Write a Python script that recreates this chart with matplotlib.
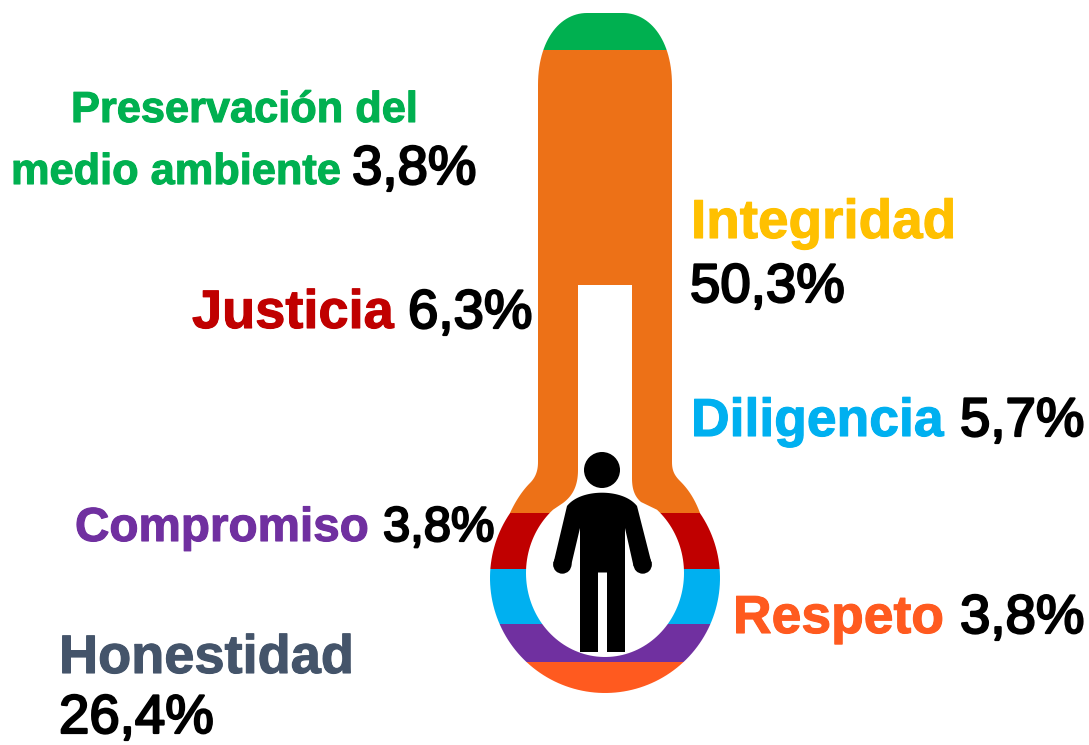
import numpy as np
import matplotlib
matplotlib.use('Agg')
import matplotlib.pyplot as plt
from matplotlib.patches import Circle, PathPatch, Polygon, Rectangle
from matplotlib.path import Path
import matplotlib.patheffects as pe

plt.rcParams['font.family'] = ['Liberation Sans', 'DejaVu Sans']

# data
labels = ['Preservación del\nmedio ambiente', 'Integridad', 'Justicia', 'Diligencia',
          'Compromiso', 'Respeto', 'Honestidad']
values = [3.8, 50.3, 6.3, 5.7, 3.8, 3.8, 26.4]
label_colors = ['#00B050', '#FFC000', '#C00000', '#00B0F0', '#7030A0', '#FF5A1F', '#44546A']

# thermometer bands, top to bottom (not proportional in the original either)
band_colors = ['#00B050', '#ED7117', '#C00000', '#00B0F0', '#7030A0', '#FF5A1F']
band_edges = [13, 50, 513, 569, 624, 662, 693]


def fmt(v):
    return f"{v:.1f}%".replace('.', ',')


def bez(p0, p1, p2, p3, n=30):
    t = np.linspace(0, 1, n)[:, None]
    p0, p1, p2, p3 = map(np.array, (p0, p1, p2, p3))
    return (1-t)**3*p0 + 3*(1-t)**2*t*p1 + 3*(1-t)*t**2*p2 + t**3*p3


def arc(cx, cy, rx, ry, a0, a1, n=120):
    a = np.radians(np.linspace(a0, a1, n))
    return np.column_stack([cx + rx*np.cos(a), cy + ry*np.sin(a)])


fig = plt.figure(figsize=(10.89, 7.45), dpi=100)
ax = fig.add_axes([0, 0, 1, 1])
ax.set_xlim(0, 1089)
ax.set_ylim(745, 0)
ax.axis('off')

# ---- thermometer outline (pixel space), y grows downward
cx, cy, r = 605, 578, 115
a_top_r = np.degrees(np.arctan2(513-cy, 700-cx))
a_top_l = np.degrees(np.arctan2(513-cy, 510-cx)) + 360
outer = np.vstack([
    bez((538, 85), (538, 40), (560, 13), (587, 13)),
    bez((623, 13), (650, 13), (672, 40), (672, 85)),
    bez((672, 462), (672, 470), (674, 475), (680, 481)),
    bez((680, 481), (687, 488), (694, 497), (700, 513)),
    arc(cx, cy, r, r, a_top_r, a_top_l),
    bez((510, 513), (516, 500), (523, 490), (530, 483)),
    bez((530, 483), (536, 477), (538, 470), (538, 462)),
])
shape = PathPatch(Path(np.vstack([outer, outer[:1]]), closed=True), fc='none', ec='none')
ax.add_patch(shape)

for c, y0, y1 in zip(band_colors, band_edges[:-1], band_edges[1:]):
    band = Rectangle((480, y0), 250, y1-y0, fc=c, ec='none', zorder=2)
    ax.add_patch(band)
    band.set_clip_path(shape)

# ---- white slot + inner circle
icx, icy, irx, iry = 605, 573, 79, 84
a_r = np.degrees(np.arccos(52/irx)) * -1
a_l = 180 - a_r
inner = np.vstack([
    np.array([[578, 285], [632, 285]]),
    bez((632, 478), (632, 488), (634, 496), (641, 502)),
    arc(icx, icy, irx, iry, a_r, a_l),
    bez((563, 503), (571, 497), (578, 488), (578, 470)),
])
ax.add_patch(Polygon(inner, closed=True, fc='white', ec='none', zorder=3))

# ---- person
ax.add_patch(Circle((602, 470), 18, fc='black', ec='none', zorder=4))
body = np.vstack([
    bez((567, 506), (575, 496), (590, 492.7), (602, 492.7)),
    bez((602, 492.7), (614, 492.7), (629, 496), (637, 506)),
    np.array([[651.5, 563], [633.5, 566], [625, 528], [625, 652], [607, 652],
              [607, 572.5], [598, 572.5], [598, 652], [580, 652], [580, 528],
              [571, 566], [553.5, 563]]),
])
ax.add_patch(Polygon(body, closed=True, fc='black', ec='none', zorder=4))
ax.add_patch(Circle((642.7, 564.5), 9.2, fc='black', ec='none', zorder=4))
ax.add_patch(Circle((562.3, 564.5), 9.2, fc='black', ec='none', zorder=4))

# ---- text
stroke_k = [pe.withStroke(linewidth=1.6, foreground='black')]


def name(x, y, s, color, size):
    t = ax.text(x, y, s, color=color, fontsize=size, fontweight='bold', ha='left', va='baseline', zorder=5)
    t.set_path_effects([pe.withStroke(linewidth=0.8, foreground=color)])


def num(x, y, s, size=39.3):
    t = ax.text(x, y, s, color='black', fontsize=size, ha='left', va='baseline', zorder=5)
    t.set_path_effects(stroke_k)


first, second = labels[0].split('\n')
name(71, 122, first, label_colors[0], 31.2)
name(11, 184, second, label_colors[0], 31.2)
num(352, 184, fmt(values[0]))

name(691, 238, labels[1], label_colors[1], 39.5)
num(690, 302, fmt(values[1]))

name(192, 328, labels[2], label_colors[2], 39)
num(408, 328, fmt(values[2]))

name(691, 436, labels[3], label_colors[3], 38.5)
num(960, 436, fmt(values[3]))

name(75, 541, labels[4], label_colors[4], 34.3)
num(383, 541, fmt(values[4]), 35.2)

name(733, 633, labels[5], label_colors[5], 38.5)
num(960, 633, fmt(values[5]))

name(59, 673, labels[6], label_colors[6], 39)
num(59, 733, fmt(values[6]))

plt.savefig('out.png', dpi=100)
